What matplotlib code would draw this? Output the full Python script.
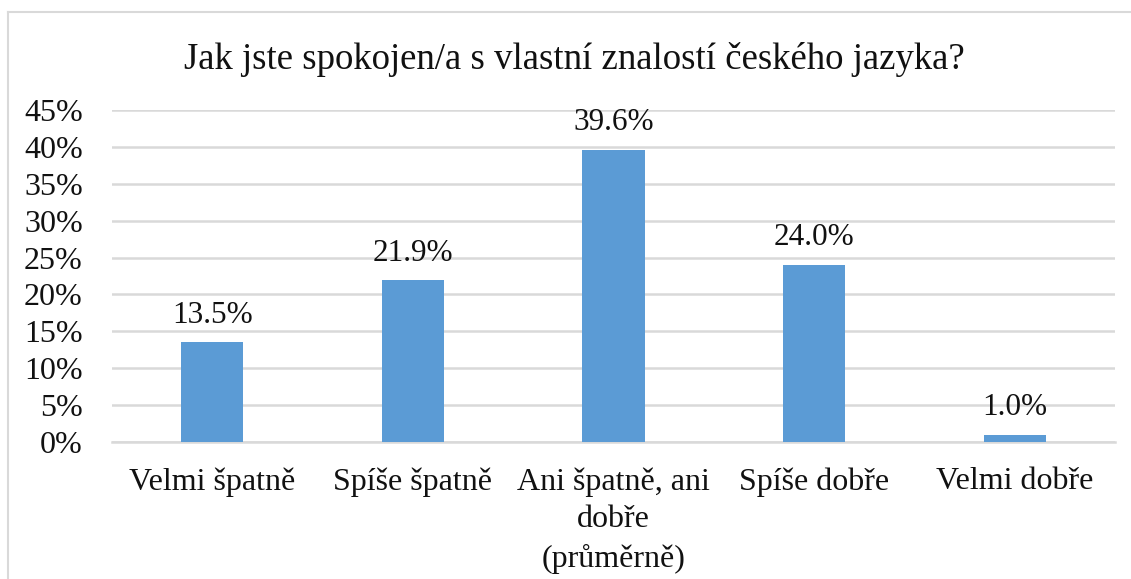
import matplotlib
matplotlib.use("Agg")
import matplotlib.pyplot as plt
from matplotlib.lines import Line2D
from matplotlib.ticker import FuncFormatter

# data
kategorie = ["Velmi špatně", "Spíše špatně", "Ani špatně, ani\ndobře\n(průměrně)",
             "Spíše dobře", "Velmi dobře"]
podil = [0.135, 0.219, 0.396, 0.240, 0.010]
popisky = ["13.5%", "21.9%", "39.6%", "24.0%", "1.0%"]
y_ticks = [0, 0.05, 0.10, 0.15, 0.20, 0.25, 0.30, 0.35, 0.40, 0.45]

plt.rcParams['font.family'] = ['Liberation Serif', 'DejaVu Serif']

fig = plt.figure(figsize=(11.31, 5.79), dpi=100)
ax = fig.add_axes([0.099, 0.2366, 0.887, 0.5734])

x = range(len(kategorie))
ax.bar(x, podil, width=0.31, color='#5B9BD5', zorder=3)
for xi, v, t in zip(x, podil, popisky):
    ax.annotate(t, (xi, v), xytext=(0, 9), textcoords='offset points',
                ha='center', va='bottom', fontsize=22.5, color='#111111', zorder=4)

ax.set_xlim(-0.5, 4.5)
ax.set_ylim(0, 0.45)
ax.set_yticks(y_ticks)
ax.yaxis.set_major_formatter(FuncFormatter(lambda v, p: f"{round(v * 100)}%"))
ax.set_xticks(list(x))
ax.set_xticklabels(kategorie, fontsize=23, linespacing=1.4)
ax.tick_params(axis='y', labelsize=23, length=0, pad=21)
ax.tick_params(axis='x', length=0, pad=18)
for lbl in ax.get_yticklabels():
    lbl.set_color('#111111')
for lbl in ax.get_xticklabels():
    lbl.set_color('#111111')
ax.grid(axis='y', color='#D9D9D9', linewidth=1.8, zorder=0)
for s in ['top', 'right', 'left']:
    ax.spines[s].set_visible(False)
ax.spines['bottom'].set_color('#D9D9D9')
ax.spines['bottom'].set_linewidth(1.8)

fig.text(0.508, 0.898, "Jak jste spokojen/a s vlastní znalostí českého jazyka?",
         ha='center', va='center', fontsize=26.5, color='#111111')

# border
fig.add_artist(Line2D([8 / 1131, 8 / 1131], [0, 1 - 12 / 579], color='#D9D9D9', lw=1.5))
fig.add_artist(Line2D([8 / 1131, 1], [1 - 12 / 579, 1 - 12 / 579], color='#D9D9D9', lw=1.5))

fig.savefig("out.png", dpi=100)
